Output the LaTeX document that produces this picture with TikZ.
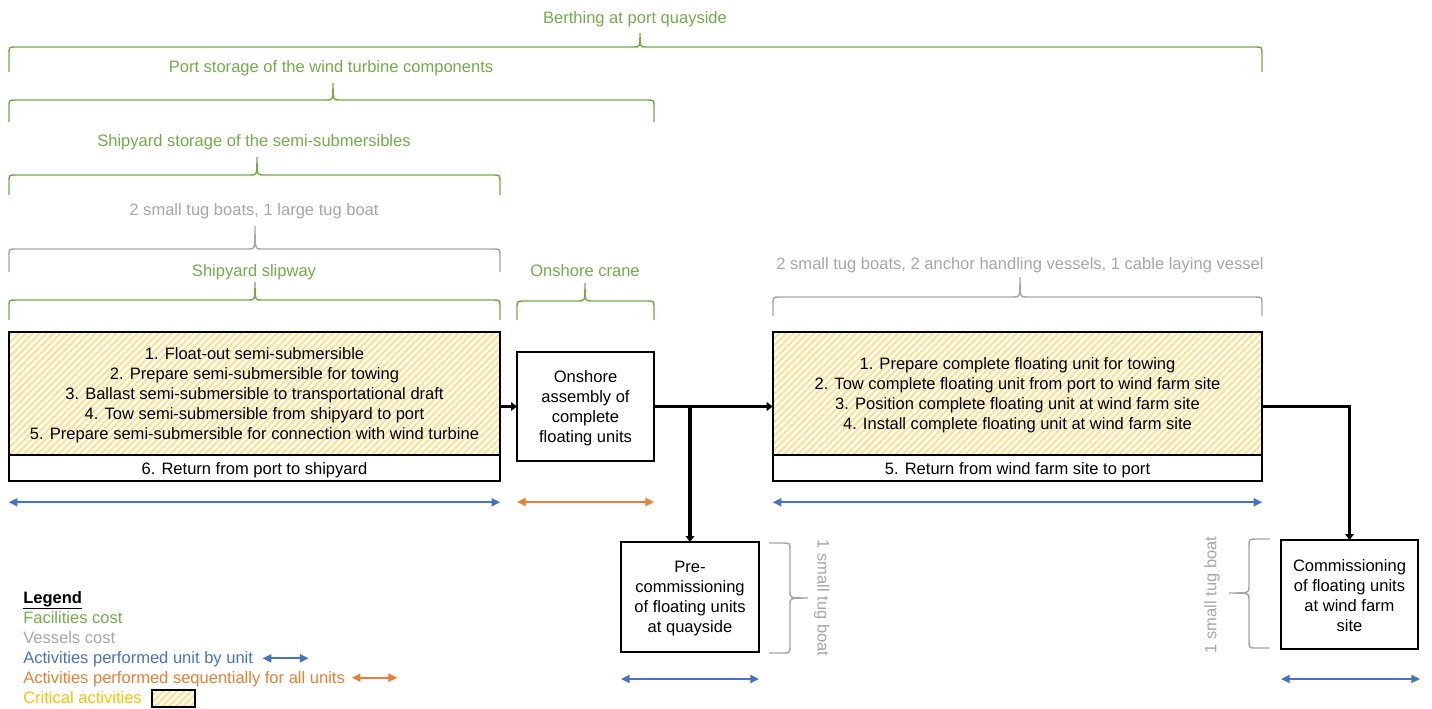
\documentclass[tikz,border=0pt]{standalone}
\usepackage{fontspec}
\setmainfont{Liberation Sans}
\usetikzlibrary{arrows.meta,patterns.meta,fit}

\definecolor{grn}{HTML}{70AD47}
\definecolor{gry}{HTML}{A6A6A6}
\definecolor{blu}{HTML}{4472C4}
\definecolor{org}{HTML}{ED7D31}
\definecolor{ylw}{HTML}{FFC000}
\definecolor{hatchc}{HTML}{FFE08A}

% curly brace opening downwards: x1, x2, x of tip, y of ends, y of bar, y of tip
\newcommand{\curlytop}[7][]{%
  \draw[#1] (#2,#5) -- (#2,#6+7) .. controls (#2,#6) .. (#2+7,#6)
    -- (#4-6,#6) .. controls (#4,#6) .. (#4,#7)
    .. controls (#4,#6) .. (#4+6,#6)
    -- (#3-7,#6) .. controls (#3,#6) .. (#3,#6+7) -- (#3,#5);}
% curly brace opening sideways: y1, y2, y of tip, x of ends, x of bar, x of tip
\newcommand{\curlyside}[7][]{%
  \draw[#1] (#5,#2) -- (0.65*#6+0.35*#5,#2) .. controls (#6,#2) .. (#6,#2+8)
    -- (#6,#4-6) .. controls (#6,#4) .. (#7,#4)
    .. controls (#6,#4) .. (#6,#4+6)
    -- (#6,#3-8) .. controls (#6,#3) .. (0.65*#6+0.35*#5,#3) -- (#5,#3);}

\tikzset{
  lbl/.style={font=\fontsize{12.4}{15}\selectfont, inner sep=0pt},
  boxtext/.style={font=\fontsize{12.4}{15}\selectfont, align=center, inner sep=0pt},
  framed/.style={draw=black, line width=1.1pt, outer sep=0pt},
  hatched/.style={framed, pattern={Lines[angle=45,distance=3.7pt,line width=1.6pt]}, pattern color=hatchc},
  gbrace/.style={draw=grn, line width=1.1pt},
  ybrace/.style={draw=gry, line width=1.1pt},
  conn/.style={line width=2.8pt, -{Triangle[length=4.5pt,width=6.5pt]}},
  biblue/.style={draw=blu, line width=1.5pt, {Triangle[length=6.5pt,width=6pt]}-{Triangle[length=6.5pt,width=6pt]}},
  biorange/.style={draw=org, line width=1.5pt, {Triangle[length=6.5pt,width=6pt]}-{Triangle[length=6.5pt,width=6pt]}}
}

\begin{document}
\begin{tikzpicture}[x=0.75pt, y=-0.75pt]
\useasboundingbox (0,0) rectangle (1432,708);

% ---- facility and vessel braces ----
\node[lbl, anchor=base, text=grn] (tBerth) at (635,23) {Berthing at port quayside};
\curlytop[gbrace]{9}{1262}{640}{72}{47}{33}
\node[lbl, anchor=base, text=grn] (tPort) at (331,72) {Port storage of the wind turbine components};
\curlytop[gbrace]{9}{654}{333}{122}{100}{83}
\node[lbl, anchor=base, text=grn] (tShipSt) at (254,146) {Shipyard storage of the semi-submersibles};
\curlytop[gbrace]{9}{500}{257}{195}{175}{157}
\node[lbl, anchor=base, text=gry] (tTug) at (254,215) {2 small tug boats, 1 large tug boat};
\curlytop[ybrace]{9}{500}{255}{272}{249}{226}
\node[lbl, anchor=base, text=grn] (tSlip) at (254,276) {Shipyard slipway};
\curlytop[gbrace]{9}{500}{255}{320}{300}{282}
\node[lbl, anchor=base, text=grn] (tCrane) at (585,276) {Onshore crane};
\curlytop[gbrace]{517}{654}{585}{320}{301}{283}
\node[lbl, anchor=base, text=gry] (tVes) at (1020,269) {2 small tug boats, 2 anchor handling vessels, 1 cable laying vessel};
\curlytop[ybrace]{773}{1262}{1020}{316}{297}{277}

% ---- semi-submersible activities ----
\node[hatched, minimum width=368.25pt, minimum height=92.25pt, boxtext] (b1a) at (254.5,393.5)
  {\rule{0pt}{11pt}1. Float-out semi-submersible\\2. Prepare semi-submersible for towing\\3. Ballast semi-submersible to transportational draft\\4. Tow semi-submersible from shipyard to port\\5. Prepare semi-submersible for connection with wind turbine};
\node[framed, minimum width=368.25pt, minimum height=19.5pt, boxtext, anchor=north] (b1b) at (b1a.south) {\rule{0pt}{12pt}6. Return from port to shipyard};
\node[fit=(b1a)(b1b), inner sep=0pt] (b1) {};

% ---- onshore assembly ----
\node[framed, minimum width=102.75pt, minimum height=81.75pt, boxtext] (on) at (585.5,406.5)
  {\rule{0pt}{11pt}Onshore\\assembly of\\complete\\floating units};

% ---- tow-out and installation ----
\node[hatched, minimum width=366.75pt, minimum height=92.25pt, boxtext] (rba) at (1017.5,393.5)
  {\rule{0pt}{11pt}1. Prepare complete floating unit for towing\\2. Tow complete floating unit from port to wind farm site\\3. Position complete floating unit at wind farm site\\4. Install complete floating unit at wind farm site};
\node[framed, minimum width=366.75pt, minimum height=19.5pt, boxtext, anchor=north] (rbb) at (rba.south) {\rule{0pt}{12pt}5. Return from wind farm site to port};
\node[fit=(rba)(rbb), inner sep=0pt] (rb) {};

% ---- pre-commissioning and commissioning ----
\node[framed, minimum width=103.5pt, minimum height=82.5pt, boxtext] (pre) at (690,597)
  {\rule{0pt}{11pt}Pre-\\commissioning\\of floating units\\at quayside};
\node[framed, minimum width=102.75pt, minimum height=81.75pt, boxtext] (cm) at (1349.5,594.5)
  {\rule{0pt}{11pt}Commissioning\\of floating units\\at wind farm\\site};

\curlyside[ybrace]{543}{653}{598}{769}{790}{808}
\node[lbl, text=gry, rotate=-90] (tPreTug) at (822,598) {1 small tug boat};
\curlyside[ybrace]{539}{648}{593}{1270}{1249}{1229}
\node[lbl, text=gry, rotate=90] (tCmTug) at (1212,595) {1 small tug boat};

% ---- flow connectors ----
\draw[conn] (b1.east) -- (on.west);
\draw[conn] (on.east) -- (rb.west);
\draw[conn] (on.east -| pre.north) -- (pre.north);
\draw[conn] (rb.east) -| (cm.north);

% ---- duration arrows ----
\draw[biblue] ([yshift=-15.75pt]b1.south west) -- ([yshift=-15.75pt]b1.south east);
\draw[biorange] ([yshift=-30.75pt]on.south west) -- ([yshift=-30.75pt]on.south east);
\draw[biblue] ([yshift=-15.75pt]rb.south west) -- ([yshift=-15.75pt]rb.south east);
\draw[biblue] ([yshift=-20.25pt]pre.south west) -- ([yshift=-20.25pt]pre.south east);
\draw[biblue] ([yshift=-22.5pt]cm.south west) -- ([yshift=-22.5pt,xshift=1.5pt]cm.south east);

% ---- legend ----
\node[lbl, anchor=base west] (lg1) at (23,603) {\textbf{\underline{Legend}}};
\node[lbl, anchor=base west, text=grn] (lg2) at (23,623) {Facilities cost};
\node[lbl, anchor=base west, text=gry] (lg3) at (23,643) {Vessels cost};
\node[lbl, anchor=base west, text=blu] (lg4) at (23,663) {Activities performed unit by unit};
\node[lbl, anchor=base west, text=org] (lg5) at (23,683) {Activities performed sequentially for all units};
\node[lbl, anchor=base west, text=ylw] (lg6) at (23,703) {Critical activities};
\draw[biblue] ([xshift=7pt,yshift=3.5pt]lg4.base east) -- ++(34.5pt,0);
\draw[biorange] ([xshift=5pt,yshift=4pt]lg5.base east) -- ++(34pt,0);
\node[hatched, anchor=west, minimum width=32.25pt, minimum height=12.75pt] (lgbox) at ([xshift=7.5pt,yshift=3.5pt]lg6.base east) {};
\end{tikzpicture}
\end{document}
